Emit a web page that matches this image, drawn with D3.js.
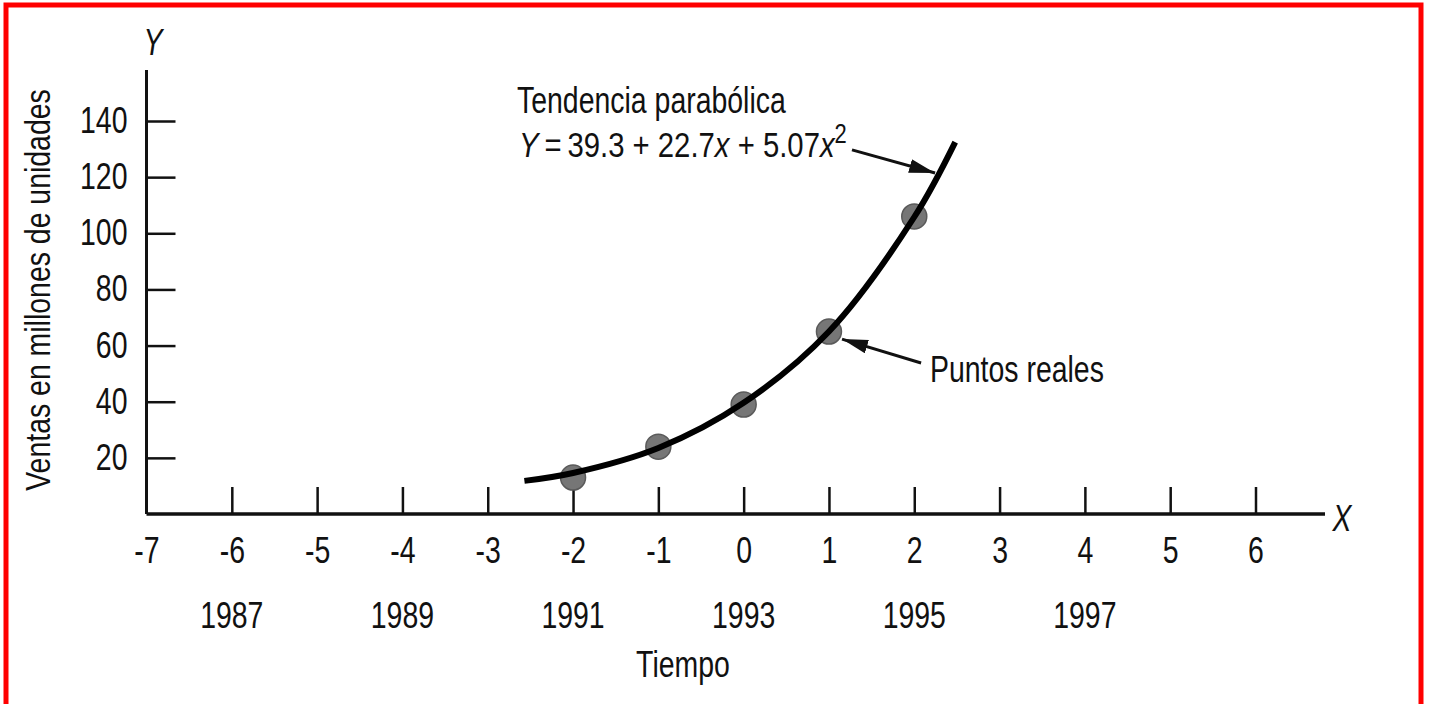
<!DOCTYPE html>
<html>
<head>
<meta charset="utf-8">
<script src="https://cdn.jsdelivr.net/npm/d3@7"></script>
<style>
  body { margin: 0; background: #fff; }
  text { font-family: "Liberation Sans", Arial, sans-serif; fill: #111; }
</style>
</head>
<body>
<div id="main"></div>
<script>
// Tiempo codificado (x) y ventas reales, en millones de unidades
const codes = [-2, -1, 0, 1, 2];
const sales = [13, 24, 39, 65, 106];

// Curva de tendencia
const trendX = [-2.57, -2, -1, 0, 1, 2, 2.48];
const trendY = [11.8, 14.6, 23.5, 39.6, 65.0, 105.8, 132.5];

const xTicks = [-7, -6, -5, -4, -3, -2, -1, 0, 1, 2, 3, 4, 5, 6];
const yTicks = [20, 40, 60, 80, 100, 120, 140];
const years = [1987, 1989, 1991, 1993, 1995, 1997];
const baseYear = 1993;

const W = 1429, H = 704;
const FS = 36;       // tamaño de letra
const NARROW = 0.79; // letra condensada

const svg = d3.select('div#main')
  .append('svg')
  .attr('width', W)
  .attr('height', H);

// squeeze text horizontally to look like a condensed face
function narrow(sel) {
  sel.each(function () {
    const w = this.getComputedTextLength();
    d3.select(this)
      .attr('textLength', w * NARROW)
      .attr('lengthAdjust', 'spacingAndGlyphs');
  });
}

// marco rojo
svg.append('rect')
  .attr('x', 6).attr('y', 5)
  .attr('width', 1415).attr('height', 740)
  .attr('fill', 'none')
  .attr('stroke', '#f00')
  .attr('stroke-width', 5);

const x = d3.scaleLinear().domain([-7, 6]).range([146.5, 1255.5]);
const y = d3.scaleLinear().domain([0, 140]).range([514, 121]);

// arrow head
svg.append('defs').append('marker')
  .attr('id', 'head')
  .attr('markerUnits', 'userSpaceOnUse')
  .attr('viewBox', '0 0 26 14')
  .attr('refX', 26).attr('refY', 7)
  .attr('markerWidth', 26).attr('markerHeight', 14)
  .attr('orient', 'auto')
  .append('path')
  .attr('d', 'M0,0 L26,7 L0,14 Z')
  .attr('fill', '#111');

// ejes
svg.append('line')
  .attr('x1', x(-7)).attr('y1', y(0))
  .attr('x2', x(-7)).attr('y2', 70)
  .attr('stroke', '#111').attr('stroke-width', 3);
svg.append('line')
  .attr('x1', x(-7)).attr('y1', y(0))
  .attr('x2', 1325).attr('y2', y(0))
  .attr('stroke', '#111').attr('stroke-width', 3.5);

const yAxis = svg.append('g')
  .attr('transform', `translate(${x(-7)},0)`)
  .call(d3.axisLeft(y).tickValues(yTicks).tickSize(-29).tickPadding(19))
  .attr('font-size', FS);
yAxis.select('.domain').remove();
yAxis.selectAll('.tick line').attr('stroke', '#111').attr('stroke-width', 2.5);
yAxis.selectAll('.tick text').call(narrow);

const xAxis = svg.append('g')
  .attr('transform', `translate(0,${y(0)})`)
  .call(d3.axisBottom(x).tickValues(xTicks).tickFormat(d => String(d)).tickSize(-27).tickPadding(23))
  .attr('font-size', FS);
xAxis.select('.domain').remove();
xAxis.selectAll('.tick line').attr('stroke', '#111').attr('stroke-width', 2.5);
xAxis.selectAll('.tick').filter(d => d === -7).select('line').remove();
xAxis.selectAll('.tick text').call(narrow);

// años
svg.append('g')
  .selectAll('text')
  .data(years)
  .join('text')
  .attr('x', d => x(d - baseYear))
  .attr('y', 628)
  .attr('text-anchor', 'middle')
  .attr('font-size', FS)
  .text(d => d)
  .call(narrow);

// titulos de ejes
svg.append('text')
  .attr('x', 683).attr('y', 677)
  .attr('text-anchor', 'middle')
  .attr('font-size', FS)
  .text('Tiempo')
  .call(narrow);

svg.append('text')
  .attr('transform', `translate(50,290) rotate(-90) scale(${NARROW},1)`)
  .attr('text-anchor', 'middle')
  .attr('font-size', FS)
  .text('Ventas en millones de unidades');

svg.append('text')
  .attr('x', 153).attr('y', 55)
  .attr('text-anchor', 'middle')
  .attr('font-size', FS)
  .attr('font-style', 'italic')
  .text('Y')
  .call(narrow);

svg.append('text')
  .attr('x', 1342).attr('y', 531)
  .attr('text-anchor', 'middle')
  .attr('font-size', FS)
  .attr('font-style', 'italic')
  .text('X')
  .call(narrow);

// puntos reales
const pts = codes.map((c, i) => ({ c: c, v: sales[i] }));
svg.append('g')
  .selectAll('circle')
  .data(pts)
  .join('circle')
  .attr('cx', d => x(d.c))
  .attr('cy', d => y(d.v))
  .attr('r', 12.5)
  .attr('fill', '#767676')
  .attr('stroke', '#5a5a5a')
  .attr('stroke-width', 1.5);

// curva de tendencia
const trend = trendX.map((t, i) => [t, trendY[i]]);
svg.append('path')
  .datum(trend)
  .attr('d', d3.line().x(d => x(d[0])).y(d => y(d[1])).curve(d3.curveCatmullRom))
  .attr('fill', 'none')
  .attr('stroke', '#000')
  .attr('stroke-width', 6);

// anotaciones
svg.append('text')
  .attr('x', 517).attr('y', 113)
  .attr('font-size', FS)
  .text('Tendencia parabólica')
  .call(narrow);

// ecuacion, escalada como un bloque
const eqG = svg.append('g');
const eq = eqG.append('text')
  .attr('font-size', FS);
eq.append('tspan').attr('font-style', 'italic').text('Y');
eq.append('tspan').text('\u2009=\u200939.3 + 22.7');
eq.append('tspan').attr('font-style', 'italic').text('x');
eq.append('tspan').text(' + 5.07');
eq.append('tspan').attr('font-style', 'italic').text('x');
eq.append('tspan').attr('font-size', 27).attr('dy', -14).text('2');
const eqW = eq.node().getComputedTextLength();
eqG.attr('transform', `translate(519,157) scale(${328 / eqW},1)`);

svg.append('line')
  .attr('x1', x(1.27)).attr('y1', y(129.7))
  .attr('x2', x(2.244)).attr('y2', y(121.5))
  .attr('stroke', '#111').attr('stroke-width', 3)
  .attr('marker-end', 'url(#head)');

svg.append('line')
  .attr('x1', x(2.08)).attr('y1', y(53.8))
  .attr('x2', x(1.153)).attr('y2', y(62.3))
  .attr('stroke', '#111').attr('stroke-width', 3)
  .attr('marker-end', 'url(#head)');

svg.append('text')
  .attr('x', 930).attr('y', 382)
  .attr('font-size', FS)
  .text('Puntos reales')
  .call(narrow);
</script>
</body>
</html>
